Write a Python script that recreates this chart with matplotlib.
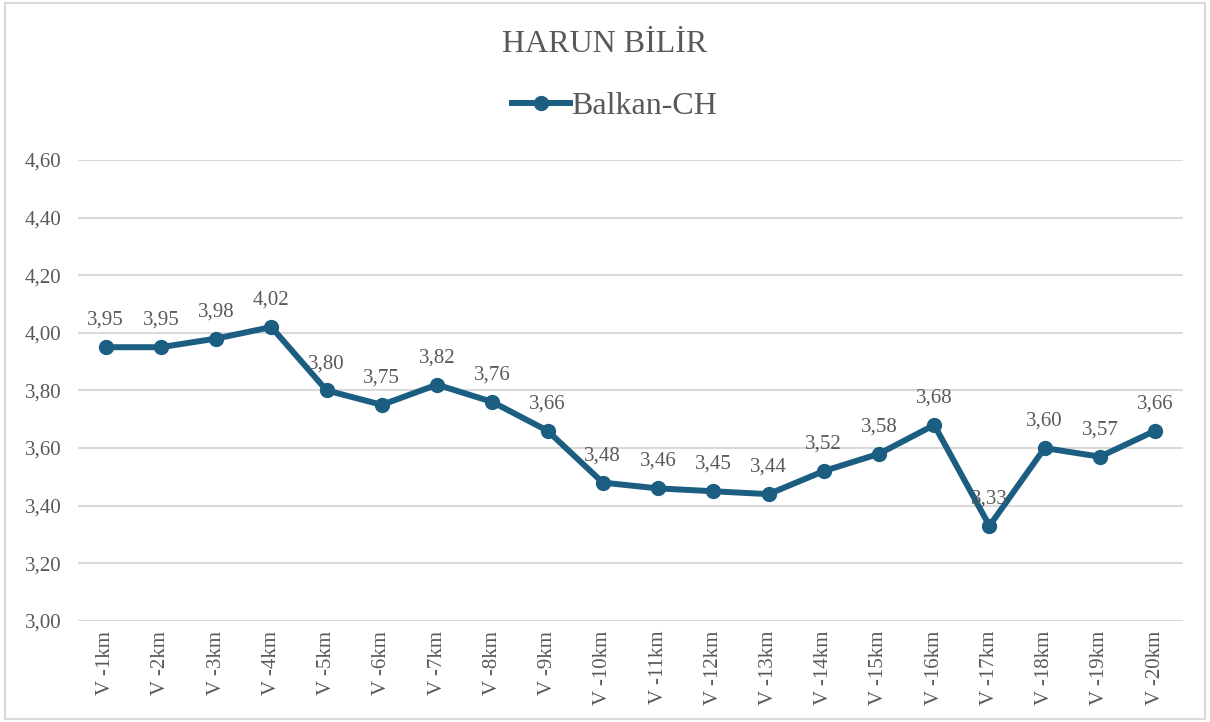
import matplotlib.pyplot as plt
from matplotlib.patches import Rectangle

# data
categories = ['V -1km', 'V -2km', 'V -3km', 'V -4km', 'V -5km', 'V -6km', 'V -7km',
              'V -8km', 'V -9km', 'V -10km', 'V -11km', 'V -12km', 'V -13km', 'V -14km',
              'V -15km', 'V -16km', 'V -17km', 'V -18km', 'V -19km', 'V -20km']
values = [3.95, 3.95, 3.98, 4.02, 3.80, 3.75, 3.82, 3.76, 3.66, 3.48,
          3.46, 3.45, 3.44, 3.52, 3.58, 3.68, 3.33, 3.60, 3.57, 3.66]
yticks = [3.00, 3.20, 3.40, 3.60, 3.80, 4.00, 4.20, 4.40, 4.60]

line_color = '#1b5e82'
text_color = '#595959'
grid_color = '#d9d9d9'

plt.rcParams['font.family'] = ['Liberation Serif', 'DejaVu Serif']

fig = plt.figure(figsize=(12.1, 7.22), dpi=100)
ax = fig.add_axes([0.0645, 0.14, 0.913, 0.6385])

x = list(range(len(categories)))
ax.plot(x, values, color=line_color, linewidth=4.3, marker='o', markersize=10,
        label='Balkan-CH', solid_joinstyle='round', zorder=3)

#data labels above each point
for xi, v in zip(x, values):
    ax.annotate('{:.2f}'.format(v).replace('.', ','), (xi, v), xytext=(0, 12.5),
                textcoords='offset points', ha='center', va='bottom',
                fontsize=15, color=text_color, zorder=4)

ax.set_xlim(-0.5, len(categories) - 0.5)
ax.set_ylim(3.0, 4.6)
ax.set_yticks(yticks)
ax.set_yticklabels(['{:.2f}'.format(t).replace('.', ',') for t in yticks])
ax.set_xticks(x)
ax.set_xticklabels(categories, rotation=90)
ax.tick_params(axis='y', length=0, pad=12, labelsize=15, labelcolor=text_color)
ax.tick_params(axis='x', length=0, pad=7, labelsize=15, labelcolor=text_color)

ax.grid(axis='y', color=grid_color, linewidth=1.5, zorder=0)
for s in ax.spines.values():
    s.set_visible(False)

fig.text(0.5, 0.938, 'HARUN BİLİR', ha='center', va='center', fontsize=23,
         color=text_color)
fig.legend(loc='center', bbox_to_anchor=(0.508, 0.853), frameon=False,
           fontsize=23, labelcolor=text_color, handlelength=1.8, handletextpad=0.05)

# light border round the chart
fig.patches.append(Rectangle((0.004, 0.004), 0.992, 0.992, transform=fig.transFigure,
                             fill=False, edgecolor=grid_color, linewidth=1.5))

fig.savefig('out.png', dpi=100)
